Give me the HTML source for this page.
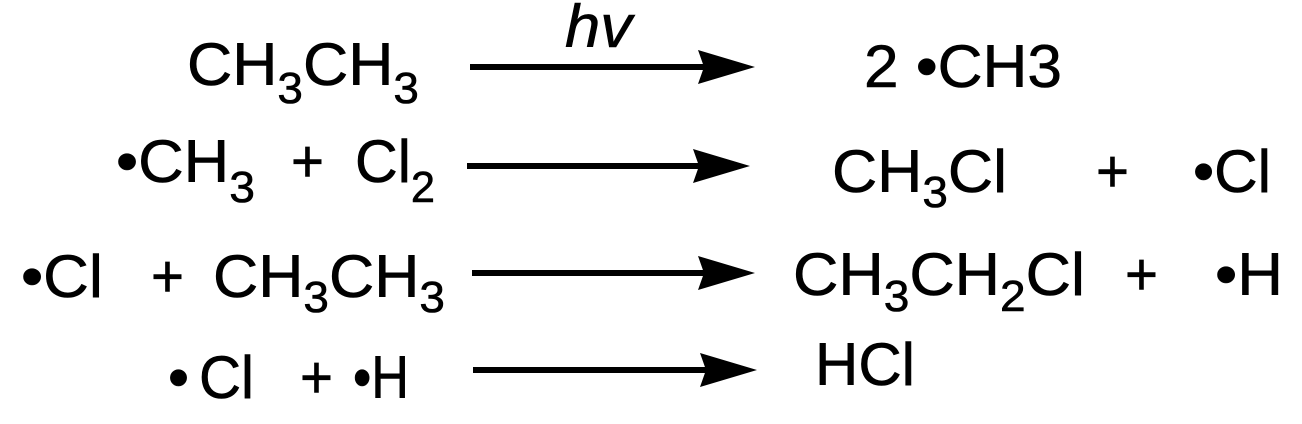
<!DOCTYPE html>
<html><head><meta charset="utf-8"><style>
html,body{margin:0;padding:0;background:#fff;}
svg{display:block;}
text{font-family:"Liberation Sans",Arial,sans-serif;fill:#000;stroke:#000;stroke-width:0.6;}
</style></head><body>
<svg width="1302" height="424" viewBox="0 0 1302 424" xmlns="http://www.w3.org/2000/svg">
<defs>
<g id="ah"><polygon points="0,0 -57,-17 -51,0 -57,17" fill="#000"/></g>
</defs>
<!-- arrows -->
<line x1="470" y1="67" x2="710" y2="67" stroke="#000" stroke-width="6"/>
<use href="#ah" x="755" y="67"/>
<line x1="467" y1="166" x2="705" y2="166" stroke="#000" stroke-width="6"/>
<use href="#ah" x="750" y="166"/>
<line x1="472" y1="273" x2="710" y2="273" stroke="#000" stroke-width="6"/>
<use href="#ah" x="755" y="273"/>
<line x1="473" y1="370" x2="712" y2="370" stroke="#000" stroke-width="6"/>
<use href="#ah" x="757" y="370"/>
<text x="565" y="47" font-size="60" font-style="italic" textLength="67" lengthAdjust="spacingAndGlyphs">hv</text>

<!-- row 1 -->
<text x="187" y="85" font-size="60" textLength="232" lengthAdjust="spacingAndGlyphs">CH<tspan font-size="44" dy="18">3</tspan><tspan dy="-18">CH</tspan><tspan font-size="44" dy="18">3</tspan></text>
<text x="864" y="87" font-size="60" textLength="198" lengthAdjust="spacingAndGlyphs">2 •CH3</text>

<!-- row 2 -->
<text x="116" y="182" font-size="60" textLength="139" lengthAdjust="spacingAndGlyphs">•CH<tspan font-size="44" dy="20">3</tspan></text>
<text x="291" y="182" font-size="60" textLength="33" lengthAdjust="spacingAndGlyphs">+</text>
<text x="355" y="182" font-size="60" textLength="80" lengthAdjust="spacingAndGlyphs">Cl<tspan font-size="44" dy="20">2</tspan></text>
<text x="832" y="192" font-size="60" textLength="175" lengthAdjust="spacingAndGlyphs">CH<tspan font-size="44" dy="15">3</tspan><tspan dy="-15">Cl</tspan></text>
<text x="1096" y="192" font-size="60" textLength="33" lengthAdjust="spacingAndGlyphs">+</text>
<text x="1193" y="192" font-size="60" textLength="78" lengthAdjust="spacingAndGlyphs">•Cl</text>

<!-- row 3 -->
<text x="21" y="297" font-size="60" textLength="82" lengthAdjust="spacingAndGlyphs">•Cl</text>
<text x="151" y="297" font-size="60" textLength="33" lengthAdjust="spacingAndGlyphs">+</text>
<text x="213" y="297" font-size="60" textLength="232" lengthAdjust="spacingAndGlyphs">CH<tspan font-size="44" dy="15">3</tspan><tspan dy="-15">CH</tspan><tspan font-size="44" dy="15">3</tspan></text>
<text x="793" y="295" font-size="60" textLength="292" lengthAdjust="spacingAndGlyphs">CH<tspan font-size="44" dy="16">3</tspan><tspan dy="-16">CH</tspan><tspan font-size="44" dy="16">2</tspan><tspan dy="-16">Cl</tspan></text>
<text x="1125" y="295" font-size="60" textLength="33" lengthAdjust="spacingAndGlyphs">+</text>
<text x="1215" y="295" font-size="60" textLength="68" lengthAdjust="spacingAndGlyphs">•H</text>

<!-- row 4 -->
<text x="168" y="398" font-size="60">•</text>
<text x="199" y="398" font-size="60" textLength="55" lengthAdjust="spacingAndGlyphs">Cl</text>
<text x="300" y="398" font-size="60" textLength="33" lengthAdjust="spacingAndGlyphs">+</text>
<text x="353" y="398" font-size="60" textLength="56" lengthAdjust="spacingAndGlyphs">•H</text>
<text x="815" y="385" font-size="60" textLength="100" lengthAdjust="spacingAndGlyphs">HCl</text>
</svg>
</body></html>
